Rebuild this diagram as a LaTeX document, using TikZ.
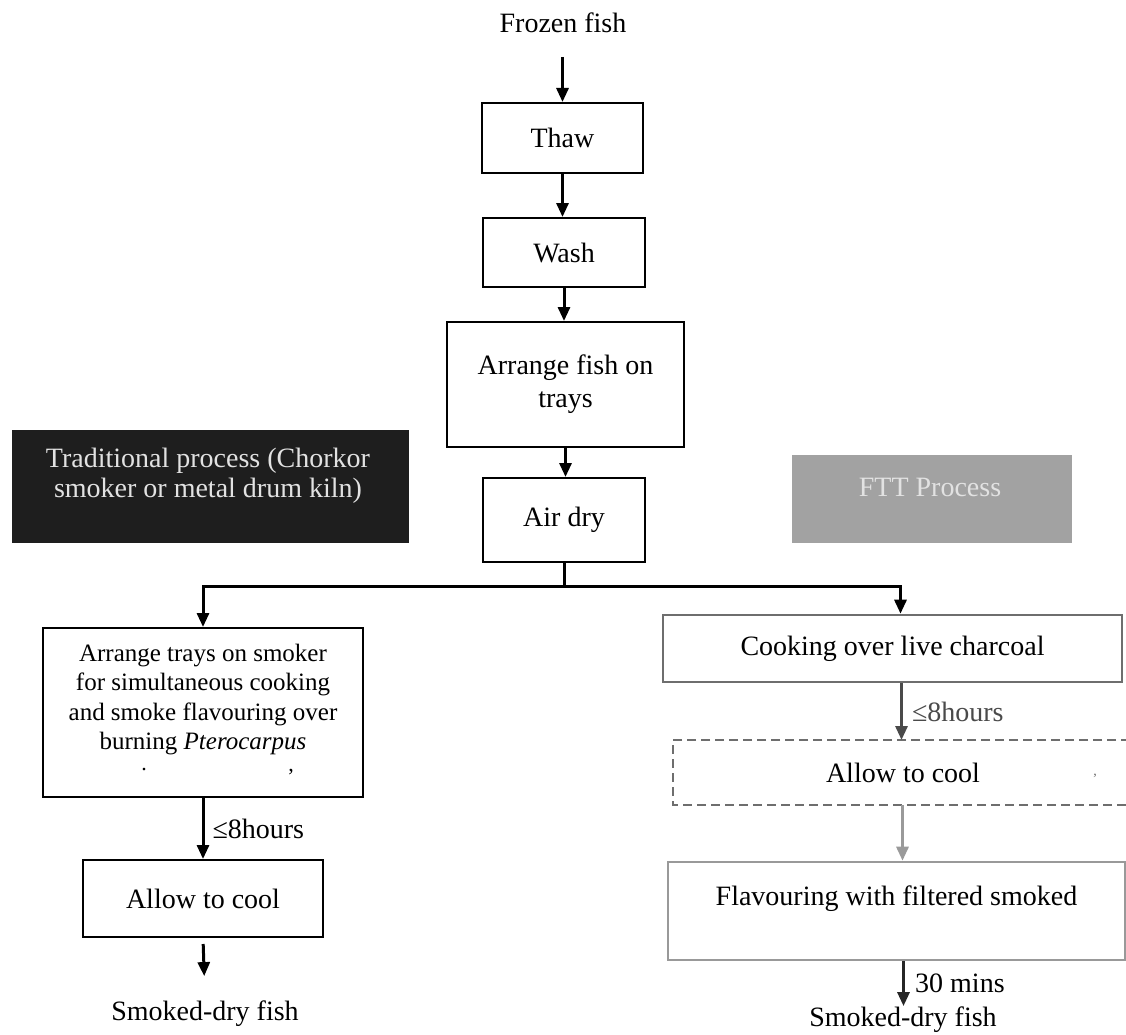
\documentclass[tikz,border=0pt]{standalone}
\usepackage{fontspec}
\setmainfont{Liberation Serif}
\usetikzlibrary{arrows.meta,calc}
\definecolor{darkfill}{HTML}{1E1E1E}
\definecolor{grayfill}{HTML}{A2A2A2}
\definecolor{graytext}{HTML}{E2E2E2}
\definecolor{boxgray}{HTML}{6E6E6E}
\definecolor{arrgray}{HTML}{4A4A4A}
\definecolor{lightarr}{HTML}{9A9A9A}
\tikzset{
  big/.style={font=\fontsize{28}{33}\selectfont},
  stepbox/.style={draw=black, line width=2pt, inner sep=0pt, align=center, big},
  graybox/.style={draw=boxgray, line width=2.6pt, inner sep=0pt, align=center, big},
  arr/.style={line width=3pt, -{Triangle[length=14pt,width=12pt]}},
  plain/.style={big, inner sep=0pt},
}
\begin{document}
\begin{tikzpicture}[x=1pt,y=-1pt]
\useasboundingbox (0,0) rectangle (1126,1035);
\fill[white] (0,0) rectangle (1126,1035);
\clip (0,0) rectangle (1126,1035);

% main column
\node[plain, anchor=base] (frozen) at (563,33) {Frozen fish};
\node[stepbox, minimum width=161pt, minimum height=70pt] (thaw) at (562.5,138) {Thaw};
\node[stepbox, minimum width=162pt, minimum height=69pt] (wash) at (564,252.5) {Wash};
\node[stepbox, minimum width=237pt, minimum height=125pt] (arrange) at (565.5,384.5) {Arrange fish on\\trays};
\node[stepbox, minimum width=162pt, minimum height=84pt] (airdry) at (564,520) {Air dry};

\draw[arr, shorten <=24pt] (frozen.base -| thaw.north) -- (thaw.north);
\draw[arr] (thaw.south) -- (thaw.south |- wash.north);
\draw[arr] (wash.south) -- (wash.south |- arrange.north);
\draw[arr] (arrange.south) -- (arrange.south |- airdry.north);

% header boxes
\node[fill=darkfill, minimum width=397pt, minimum height=113pt, inner sep=0pt] (tradhdr) at (210.5,486.5) {};
\node[text=graytext, align=center, font=\fontsize{28}{30}\selectfont, inner sep=0pt] (tradtxt) at (208,476) {Traditional process (Chorkor\\smoker or metal drum kiln)};
\node[fill=grayfill, minimum width=280pt, minimum height=88pt, inner sep=0pt] (ftthdr) at (932,499) {};
\node[text=graytext, big, inner sep=0pt] (ftttxt) at (930,487) {FTT Process};

% branch
\coordinate (split) at ($(airdry.south)+(0,23)$);
\draw[line width=3pt] (airdry.south) -- (split);

% left (traditional) path
\node[stepbox, minimum width=320pt, minimum height=169pt, font=\fontsize{25}{29.5}\selectfont] (smoker) at (203,712.5) {Arrange trays on smoker\\for simultaneous cooking\\and smoke flavouring over\\burning \textit{Pterocarpus}\\[2pt]\mbox{}};
\node[font=\fontsize{22}{22}\selectfont, inner sep=0pt] (dot1) at (144,770) {.};
\node[font=\fontsize{22}{22}\selectfont, inner sep=0pt] (dot2) at (291,772) {,};
\node[stepbox, minimum width=240pt, minimum height=77pt] (cool1) at (203,898.5) {Allow to cool};
\node[plain, anchor=base] (smoked1) at (205,1020) {Smoked-dry fish};

\draw[arr] (split) -| (smoker.north);
\draw[arr] (smoker.south) -- node[right=8pt, plain] (lbl1) {≤8hours} (cool1.north);
\draw[arr, shorten <=6pt, shorten >=24pt] (cool1.south) -- (smoked1.north);

% right (FTT) path
\node[graybox, minimum width=459pt, minimum height=67pt] (cook) at (892.5,648.5) {Cooking over live charcoal};
\draw[arr] (split) -| ([xshift=8pt]cook.north);

\coordinate (dtl) at (673,740);
\coordinate (dbl) at (673,805);
\draw[boxgray, line width=2.6pt, dash pattern=on 9pt off 5pt] (1130,740) -- (dtl) -- (dbl) -- (1130,805);
\node[plain] (cool2) at (903,772.5) {Allow to cool};
\node[font=\fontsize{14}{14}\selectfont, text=boxgray, inner sep=0pt] (mark3) at (1095,776) {,};

\node[graybox, draw=gray!80, minimum width=457pt, minimum height=98pt, text depth=30pt] (flav) at (896.5,911) {Flavouring with filtered smoked};
\node[plain, anchor=base] (smoked2) at (903,1026) {Smoked-dry fish};

\draw[arr, arrgray] ([xshift=9pt]cook.south) -- node[right=9pt, plain, text=arrgray] (lbl2) {≤8hours} ([xshift=9pt]cook.south |- dtl);
\draw[arr, lightarr] ([xshift=6pt]flav.north |- dbl) -- ([xshift=6pt]flav.north);
\draw[arr, black!85] ([xshift=7pt]flav.south) -- ([xshift=7pt]flav.south |- smoked2.north);
\node[plain, anchor=base west] (mins) at (915,992) {30 mins};
\end{tikzpicture}
\end{document}
